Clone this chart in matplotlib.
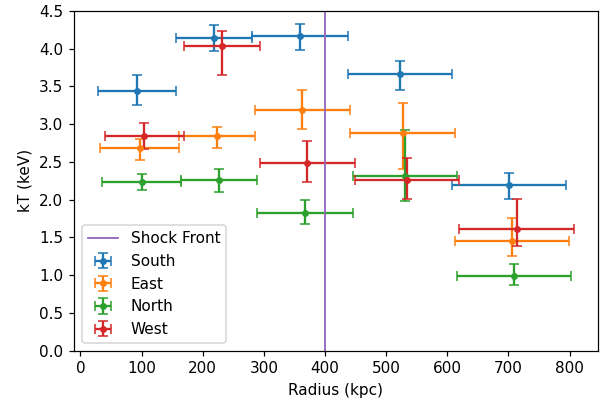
import matplotlib
matplotlib.use("Agg")
import matplotlib.pyplot as plt

# radial bins (kpc): centre and half width, per direction
south_r = [92.6, 218.7, 358.7, 522.7, 701.3]
south_dr = [64.3, 61.7, 78.3, 85.7, 93.0]
south_kt = [3.44, 4.14, 4.17, 3.67, 2.19]
south_lo = [0.19, 0.17, 0.19, 0.22, 0.18]
south_hi = [0.21, 0.17, 0.16, 0.17, 0.17]

east_r = [96.6, 222.9, 363.1, 526.8, 705.4]
east_dr = [64.4, 62.0, 78.3, 85.4, 93.3]
east_kt = [2.68, 2.84, 3.19, 2.89, 1.45]
east_lo = [0.15, 0.16, 0.25, 0.48, 0.195]
east_hi = [0.13, 0.12, 0.27, 0.39, 0.31]

north_r = [100.2, 226.4, 366.6, 530.6, 709.0]
north_dr = [64.7, 61.6, 78.6, 85.4, 93.0]
north_kt = [2.24, 2.255, 1.83, 2.32, 0.985]
north_lo = [0.115, 0.15, 0.15, 0.34, 0.11]
north_hi = [0.10, 0.15, 0.17, 0.61, 0.16]

west_r = [104.5, 231.0, 371.3, 534.7, 713.4]
west_dr = [64.7, 62.0, 78.3, 85.1, 93.6]
west_kt = [2.845, 4.03, 2.48, 2.265, 1.61]
west_lo = [0.177, 0.38, 0.24, 0.25, 0.22]
west_hi = [0.17, 0.20, 0.295, 0.29, 0.40]

shock_r = 400

dpi = 110
fig, ax = plt.subplots(figsize=(608 / dpi, 401 / dpi), dpi=dpi)
fig.subplots_adjust(left=0.1217, right=0.983, top=0.9726, bottom=0.1254)

ax.errorbar(south_r, south_kt, xerr=south_dr, yerr=[south_lo, south_hi],
            fmt='o', markersize=3.5, capsize=3, label='South')
ax.errorbar(east_r, east_kt, xerr=east_dr, yerr=[east_lo, east_hi],
            fmt='o', markersize=3.5, capsize=3, label='East')
ax.errorbar(north_r, north_kt, xerr=north_dr, yerr=[north_lo, north_hi],
            fmt='o', markersize=3.5, capsize=3, label='North')
ax.errorbar(west_r, west_kt, xerr=west_dr, yerr=[west_lo, west_hi],
            fmt='o', markersize=3.5, capsize=3, label='West')

ax.axvline(shock_r, color='tab:purple', lw=1.2, label='Shock Front')

ax.set_ylim(0, 4.5)
ax.set_xlabel('Radius (kpc)')
ax.set_ylabel('kT (keV)')
ax.legend(loc='lower left')

fig.savefig('out.png', dpi=dpi)
